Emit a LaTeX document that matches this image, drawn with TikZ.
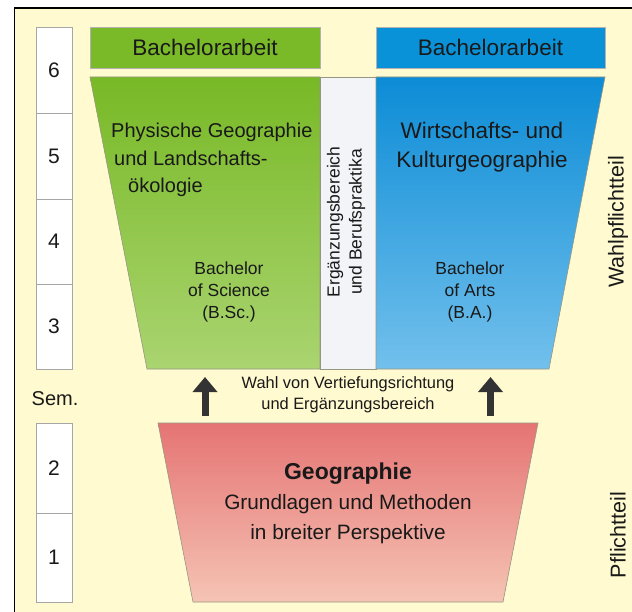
\documentclass[tikz,border=0pt]{standalone}
\usepackage{fontspec}
\setmainfont{Liberation Sans}
\usetikzlibrary{arrows.meta}
\definecolor{bgyellow}{RGB}{255,250,208}
\definecolor{txt}{RGB}{25,25,25}
\definecolor{greenbox}{RGB}{122,186,40}
\definecolor{greentop}{RGB}{120,185,38}
\definecolor{greenbot}{RGB}{170,212,112}
\definecolor{bluebox}{RGB}{10,146,216}
\definecolor{bluetop}{RGB}{12,140,214}
\definecolor{bluebot}{RGB}{114,192,236}
\definecolor{pinktop}{RGB}{229,116,116}
\definecolor{pinkbot}{RGB}{245,196,180}
\definecolor{strip}{RGB}{242,244,248}
\definecolor{edge}{RGB}{150,150,130}
\definecolor{arrowc}{RGB}{51,51,51}
\newcommand{\fsz}[2]{\fontsize{#1}{#2}\selectfont}
\tikzset{
  sembox/.style={draw=black!35, fill=white, line width=0.8pt, minimum width=36pt, inner sep=0pt, font=\fsz{21}{24}, text=txt},
  thesis/.style={draw=black!30, line width=0.6pt, minimum width=230pt, minimum height=41pt, inner sep=0pt, font=\fsz{22.5}{26}, text=txt},
  lbl/.style={text=txt, inner sep=0pt, align=center},
  uparrow/.style={line width=7pt, draw=arrowc, -{Triangle[width=24pt,length=15pt]}},
  trap/.style={draw=edge, line width=0.6pt}
}
\begin{document}
\begin{tikzpicture}[x=1pt,y=-1pt]
\useasboundingbox (0,0) rectangle (632,612);
% background frame
\fill[white] (0,0) rectangle (632,612);
\fill[bgyellow] (14.5,8) rectangle (632,612);
\draw[black, line width=1.3pt] (14.5,612) -- (14.5,8) -- (632,8);

% semester column
\node[sembox, minimum height=86pt] (s6) at (54,70) {6};
\node[sembox, minimum height=86pt] (s5) at (54,156) {5};
\node[sembox, minimum height=85pt] (s4) at (54,241.5) {4};
\node[sembox, minimum height=85pt] (s3) at (54,326.5) {3};
\node[lbl, font=\fsz{20}{24}] (sem) at (55,399) {Sem.};
\node[sembox, minimum height=90pt] (s2) at (54,468) {2};
\node[sembox, minimum height=89pt] (s1) at (54,557.5) {1};

% Bachelorarbeit boxes
\node[thesis, fill=greenbox] (bag) at (205,47.5) {Bachelorarbeit};
\node[thesis, fill=bluebox, minimum width=229pt] (bab) at (490.5,47.5) {Bachelorarbeit};

% green trapezoid
\shade[top color=greentop, bottom color=greenbot] (90,77) -- (320,77) -- (320,369) -- (147,369) -- cycle;
\draw[trap] (90,77) -- (320,77) -- (320,369) -- (147,369) -- cycle;
% middle strip
\node[draw=edge, fill=strip, line width=0.6pt, minimum width=56pt, minimum height=292pt, inner sep=0pt] (mid) at (348,223) {};
% blue trapezoid
\shade[top color=bluetop, bottom color=bluebot] (376,77) -- (605,77) -- (549,369) -- (376,369) -- cycle;
\draw[trap] (376,77) -- (605,77) -- (549,369) -- (376,369) -- cycle;
% pink trapezoid
\shade[top color=pinktop, bottom color=pinkbot] (158,423) -- (538,423) -- (503,602) -- (193,602) -- cycle;
\draw[trap] (158,423) -- (538,423) -- (503,602) -- (193,602) -- cycle;

% texts
\node[lbl, align=left, anchor=west, font=\fsz{20}{27.5}] (phys) at (111,160)
  {Physische Geographie\\\hspace*{3pt}und Landschafts-\\\hspace*{17pt}ökologie};
\node[lbl, font=\fsz{17.5}{22}] (bsc) at (229,292) {Bachelor\\of Science\\(B.Sc.)};
\node[lbl, rotate=90, font=\fsz{17.5}{22}] (erg) at (346,222) {Ergänzungsbereich\\und Berufspraktika};
\node[lbl, font=\fsz{22.5}{29}] (wirt) at (482,147) {Wirtschafts- und\\Kulturgeographie};
\node[lbl, font=\fsz{17.5}{22}] (ba) at (470,292) {Bachelor\\of Arts\\(B.A.)};
\node[lbl, rotate=90, font=\fsz{21.5}{24}] (wpt) at (618,222) {Wahlpflichtteil};
\node[lbl, rotate=90, font=\fsz{21.5}{24}] (pt) at (618,535) {Pflichtteil};

\node[lbl, font=\fsz{16.4}{21}] (wahl) at (348,395) {Wahl von Vertiefungsrichtung\\und Ergänzungsbereich};

\node[lbl, font=\fsz{20.8}{30}] (geo) at (348,503)
  {{\fontsize{23}{30}\selectfont\bfseries Geographie}\\Grundlagen und Methoden\\in breiter Perspektive};

% arrows
\coordinate (a1s) at (205,416);
\coordinate (a1e) at (205,377);
\coordinate (a2s) at (490.5,416);
\coordinate (a2e) at (490.5,377);
\draw[uparrow] (a1s) -- (a1e);
\draw[uparrow] (a2s) -- (a2e);
\end{tikzpicture}
\end{document}
